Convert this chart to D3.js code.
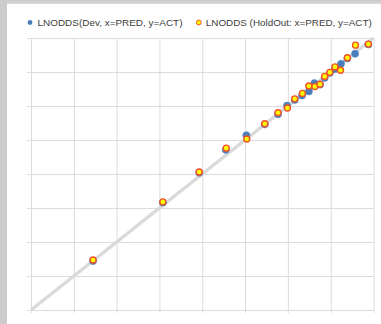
<!DOCTYPE html>
<html><head><meta charset="utf-8">
<script src="https://cdn.jsdelivr.net/npm/d3@7"></script>
<style>
html,body{margin:0;padding:0;background:#d3d3d3;}
svg{display:block;}
</style></head>
<body>
<svg id="chart" width="381" height="324"></svg>
<script>
// Data (LNODDS predicted vs actual)
const devPred = [-6.55,-4.92,-4.07,-3.45,-2.97,-2.54,-2.23,-2.02,-1.84,-1.67,-1.51,-1.38,-1.25,-1.14,-1.02,-0.90,-0.76,-0.61,-0.43,-0.12];
const devAct  = [-6.56,-4.84,-3.96,-3.29,-2.86,-2.54,-2.24,-1.99,-1.82,-1.69,-1.57,-1.33,-1.37,-1.17,-1.03,-0.91,-0.76,-0.60,-0.46,-0.19];
const hoPred  = [-6.55,-4.92,-4.07,-3.44,-2.96,-2.54,-2.23,-2.01,-1.84,-1.66,-1.51,-1.37,-1.25,-1.14,-1.02,-0.90,-0.77,-0.61,-0.42,-0.12];
const hoAct   = [-6.53,-4.82,-3.94,-3.24,-2.97,-2.52,-2.20,-2.06,-1.79,-1.63,-1.41,-1.43,-1.36,-1.13,-1.01,-0.85,-0.95,-0.58,-0.21,-0.18];
const axisTicks = [-8,-7,-6,-5,-4,-3,-2,-1,0];
const seriesNames = ["LNODDS(Dev, x=PRED, y=ACT)", "LNODDS (HoldOut: x=PRED, y=ACT)"];

const svg = d3.select("#chart");
// background frame
const defs = svg.append("defs");
const gT = defs.append("linearGradient").attr("id","gt").attr("x1",0).attr("y1",0).attr("x2",0).attr("y2",1);
gT.append("stop").attr("offset","0%").attr("stop-color","#c9c9c9");
gT.append("stop").attr("offset","100%").attr("stop-color","#dedede");
svg.append("rect").attr("x",0).attr("y",0).attr("width",381).attr("height",324).attr("fill","#cccccc");
svg.append("rect").attr("x",7).attr("y",0).attr("width",374).attr("height",5).attr("fill","url(#gt)");
svg.append("rect").attr("x",7).attr("y",4).attr("width",374).attr("height",320).attr("fill","#ffffff");

const x = d3.scaleLinear().domain([-8,0]).range([31,373.5]);
const y = d3.scaleLinear().domain([-8,0]).range([310,38]);

const gridColor = "#dcdcdc";
// vertical gridlines + bottom ticks
const xAxis = d3.axisBottom(x).tickValues(axisTicks).tickSize(-(310-38)).tickSizeOuter(0).tickFormat("");
const gx = svg.append("g").attr("transform","translate(0,310)").call(xAxis);
gx.selectAll(".tick line").attr("stroke",gridColor).attr("y2",-(310-38)).attr("y1",3);
gx.select(".domain").attr("stroke",gridColor).attr("stroke-width",1.2);
// horizontal gridlines + left ticks
const yAxis = d3.axisLeft(y).tickValues(axisTicks).tickSize(-(373.5-31)).tickSizeOuter(0).tickFormat("");
const gy = svg.append("g").attr("transform","translate(31,0)").call(yAxis);
gy.selectAll(".tick line").attr("stroke",gridColor).attr("x1",-4).attr("stroke-width",1);
gy.select(".domain").attr("stroke","none");
gy.selectAll(".tick").filter(d=>d===-8).select("line").attr("stroke-width",1.2);

// diagonal y=x reference line
svg.append("line")
  .attr("x1",x(-8)).attr("y1",y(-8)).attr("x2",x(0)).attr("y2",y(0))
  .attr("stroke","#dadada").attr("stroke-width",3.5).attr("stroke-linecap","butt");

const dev = devPred.map((p,i)=>({p, a:devAct[i]}));
const ho = hoPred.map((p,i)=>({p, a:hoAct[i]}));

svg.append("g").selectAll("circle").data(dev).join("circle")
  .attr("cx",d=>x(d.p)).attr("cy",d=>y(d.a)).attr("r",3.6)
  .attr("fill","#4a7ebb").attr("stroke","#5a8bc6").attr("stroke-width",0.6);

svg.append("g").selectAll("circle").data(ho).join("circle")
  .attr("cx",d=>x(d.p)).attr("cy",d=>y(d.a)).attr("r",3.0)
  .attr("fill","#ffff00").attr("stroke","#f0502a").attr("stroke-width",1.4);

// legend
const leg = svg.append("g").attr("font-family","Liberation Sans, Arial, sans-serif").attr("font-size","9.5px").attr("fill","#404040");
leg.append("circle").attr("cx",30).attr("cy",22.5).attr("r",2.4).attr("fill","#4a7ebb");
leg.append("text").attr("x",37.5).attr("y",26).text(seriesNames[0])
  .attr("textLength",145).attr("lengthAdjust","spacingAndGlyphs");
leg.append("circle").attr("cx",198.8).attr("cy",22.5).attr("r",2.4).attr("fill","#ffff00").attr("stroke","#f0502a").attr("stroke-width",1);
leg.append("text").attr("x",205.8).attr("y",26).text(seriesNames[1])
  .attr("textLength",166).attr("lengthAdjust","spacingAndGlyphs");
</script>
</body></html>
